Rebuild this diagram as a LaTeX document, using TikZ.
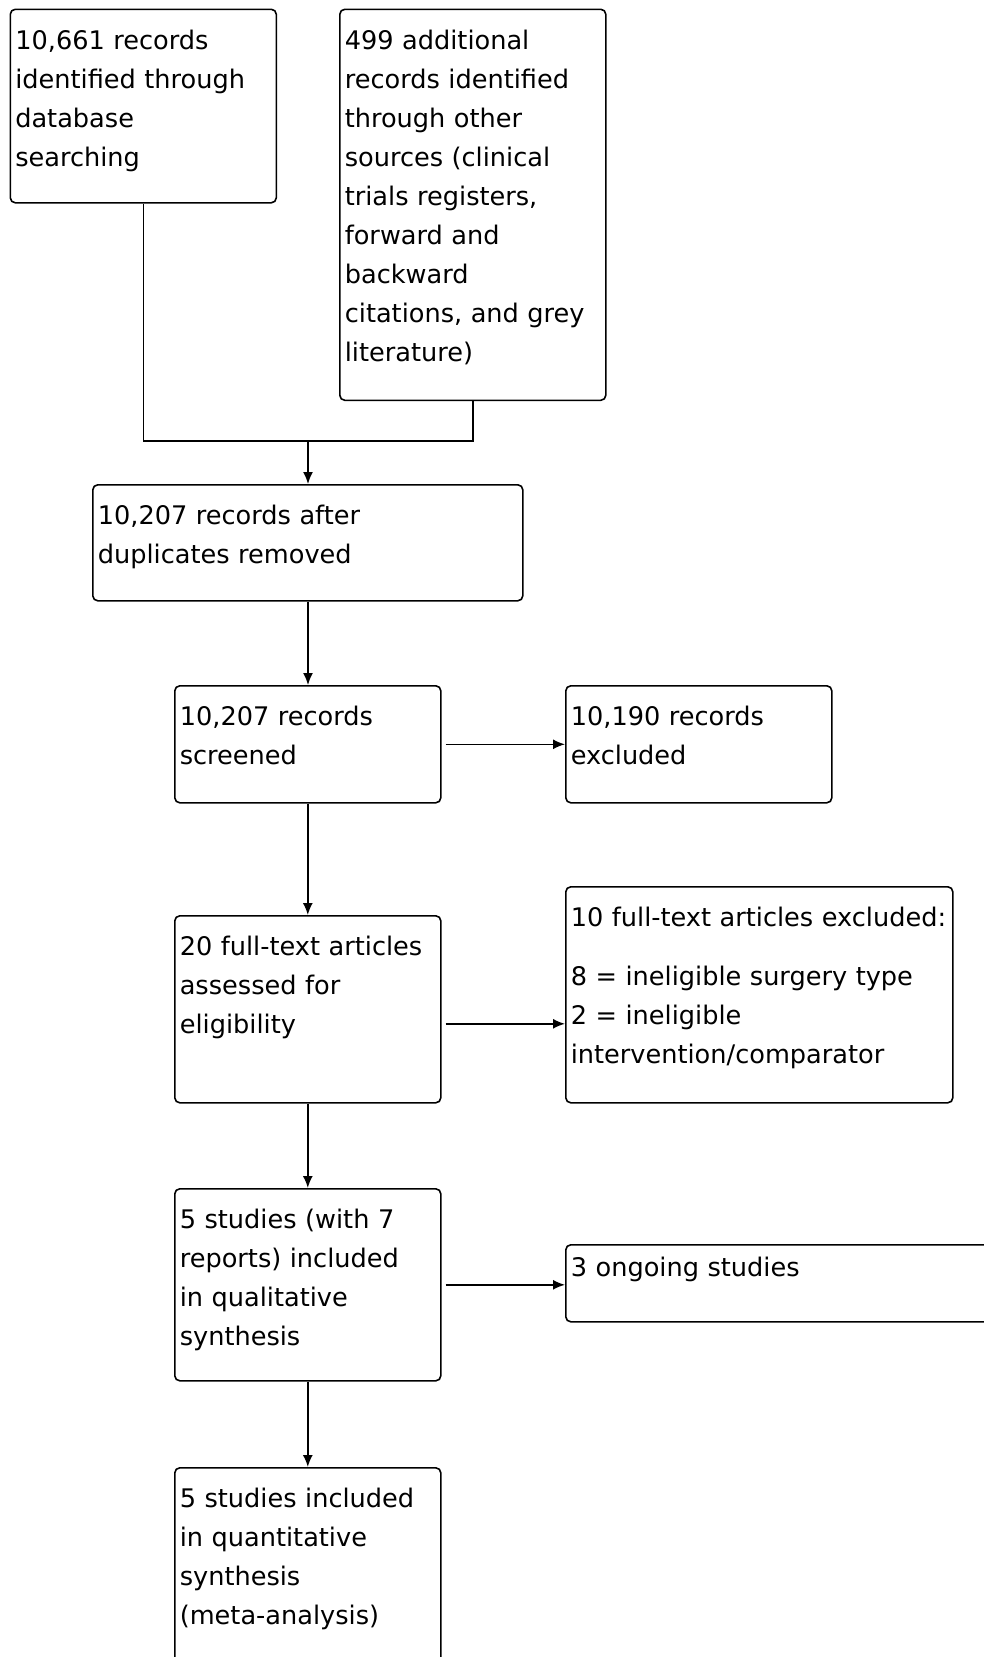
\documentclass[tikz,border=0pt]{standalone}
\usepackage{fontspec}
\setmainfont{DejaVu Sans}
\usetikzlibrary{arrows.meta}

\begin{document}
\begin{tikzpicture}[x=1pt,y=-1pt,
    box/.style={draw, line width=1.6pt, rounded corners=5pt, anchor=north west,
      align=left, inner xsep=5pt, inner ysep=0pt, text height=40pt,
      font=\fontsize{25.6}{39}\selectfont},
    flow/.style={line width=1.6pt, -{Latex[length=12pt,width=10pt]}}]
    \useasboundingbox (0,0) rectangle (983,1657);

    \node[box, text width=256pt, text depth=153.5pt] (database) at (9.5,8.5)
      {10,661 records\\identified through\\database\\searching};
    \node[box, text width=256pt, text depth=351pt] (other) at (339,8.5)
      {499 additional\\records identified\\through other\\sources (clinical\\trials registers,\\forward and\\backward\\citations, and grey\\literature)};
    \node[box, text width=420pt, text depth=76pt] (dedup) at (92,484)
      {10,207 records after\\duplicates removed};
    \node[box, text width=256pt, text depth=77pt] (screened) at (174,685)
      {10,207 records\\screened};
    \node[box, text width=256pt, text depth=77pt] (excluded) at (565,685)
      {10,190 records\\excluded};
    \node[box, text width=377pt, text depth=176pt] (ftexcl) at (565,886)
      {\mbox{10 full-text articles excluded:}\\[20pt]8 = ineligible surgery type\\2 = ineligible\\intervention/comparator};
    \node[box, text width=256pt, text depth=147pt] (fulltext) at (174,915)
      {20 full-text articles\\assessed for\\eligibility};
    \node[box, text width=256pt, text depth=152pt] (qual) at (174,1188)
      {5 studies (with 7\\reports) included\\in qualitative\\synthesis};
    \node[box, text width=420pt, text height=32pt, text depth=45pt] (ongoing) at (565,1244)
      {3 ongoing studies};
    \node[box, text width=256pt, text depth=180pt] (quant) at (174,1467)
      {5 studies included\\in quantitative\\synthesis\\(meta-analysis)};

    % merge of the two sources
    \coordinate (merge) at (308,441);
    \draw[line width=1.6pt] (database.south) |- (merge) -| (other.south);

    \draw[flow] (merge) -- (dedup.north -| merge);
    \draw[flow] (dedup.south -| merge) -- (screened.north -| merge);
    \draw[flow] (screened) -- (fulltext);
    \draw[flow] (fulltext) -- (qual);
    \draw[flow] (qual) -- (quant);

    \draw[flow, shorten <=4pt] (screened.east) -- (screened.east -| excluded.west);
    \draw[flow, shorten <=4pt] ([yshift=-14.5pt]fulltext.east) -- ([yshift=-14.5pt]fulltext.east -| ftexcl.west);
    \draw[flow, shorten <=4pt] (qual.east) -- (qual.east -| ongoing.west);
\end{tikzpicture}
\end{document}
